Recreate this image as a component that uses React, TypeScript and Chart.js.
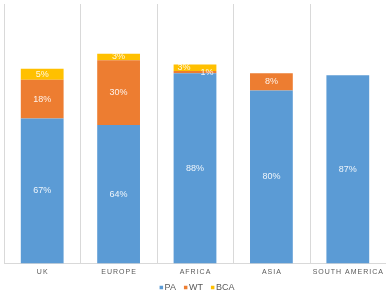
import React, { useEffect, useRef } from "react";
import { Chart, registerables } from "chart.js";

Chart.register(...registerables);

const categories = ["UK", "EUROPE", "AFRICA", "ASIA", "SOUTH AMERICA"];
const paValues = [67, 64, 88, 80, 87];
const wtValues = [18, 30, 1, 8, 0];
const bcaValues = [5, 3, 3, 0, 0];
const seriesNames = ["PA", "WT", "BCA"];
const seriesColors = ["#5b9bd5", "#ed7d31", "#ffc000"];

const FONT = "'Liberation Sans', Arial, sans-serif";
const GRID = "#d9d9d9";

const gridPlugin = {
  id: "categoryDividers",
  beforeDatasetsDraw(chart: any) {
    const ctx = chart.ctx;
    const xs = chart.scales.x;
    const area = chart.chartArea;
    const step = categories.length > 1 ? xs.getPixelForValue(1) - xs.getPixelForValue(0) : xs.width;
    ctx.save();
    ctx.strokeStyle = GRID;
    ctx.lineWidth = 1;
    categories.forEach((_, i) => {
      const x = Math.round(xs.getPixelForValue(i) - step / 2) + 0.5;
      ctx.beginPath();
      ctx.moveTo(x, area.top);
      ctx.lineTo(x, area.bottom);
      ctx.stroke();
    });
    ctx.restore();
  },
};

const valueLabelPlugin = {
  id: "valueLabels",
  afterDatasetsDraw(chart: any) {
    const ctx = chart.ctx;
    ctx.save();
    ctx.font = `9px ${FONT}`;
    ctx.fillStyle = "rgba(255,255,255,0.9)";
    ctx.textAlign = "center";
    ctx.textBaseline = "middle";
    chart.data.datasets.forEach((ds: any, di: number) => {
      const meta = chart.getDatasetMeta(di);
      meta.data.forEach((bar: any, i: number) => {
        const v = ds.data[i];
        if (!v) return;
        let x = bar.x;
        let y = (bar.y + bar.base) / 2;
        // a very thin WT segment under a thin BCA segment: push the two labels apart
        const thinWT = di > 0 && chart.data.datasets[1].data[i] > 0 && chart.data.datasets[1].data[i] < 3;
        if (thinWT) {
          if (di === 1) {
            x += 12;
            y = bar.base - 0.5;
          } else {
            x -= 11;
            y -= 0.5;
          }
        }
        ctx.fillText(`${v}%`, x, y);
      });
    });
    ctx.restore();
  },
};

const xLabelPlugin = {
  id: "spacedXLabels",
  afterDraw(chart: any) {
    const ctx = chart.ctx;
    const xs = chart.scales.x;
    ctx.save();
    ctx.font = `7px ${FONT}`;
    (ctx as any).letterSpacing = "1px";
    ctx.fillStyle = "#595959";
    ctx.textAlign = "center";
    ctx.textBaseline = "middle";
    categories.forEach((c, i) => {
      const x = xs.getPixelForValue(i);
      ctx.fillText(c, x + 0.5, xs.top + 9);
    });
    (ctx as any).letterSpacing = "0px";
    ctx.restore();
  },
};

const legendPlugin = {
  id: "compactLegend",
  afterDraw(chart: any) {
    const ctx = chart.ctx;
    ctx.save();
    ctx.font = `9px ${FONT}`;
    ctx.textBaseline = "middle";
    ctx.textAlign = "left";
    const box = 3.5;
    const gap = 1.5;
    const itemGap = 8;
    const widths = seriesNames.map((n) => box + gap + ctx.measureText(n).width);
    const total = widths.reduce((a, b) => a + b, 0) + itemGap * (widths.length - 1);
    let x = chart.width / 2 + 4 - total / 2;
    const y = chart.height - 4.5;
    seriesNames.forEach((n, k) => {
      ctx.fillStyle = seriesColors[k];
      ctx.fillRect(x, y - box / 2, box, box);
      ctx.fillStyle = "#595959";
      ctx.fillText(n, x + box + gap, y + 0.5);
      x += widths[k] + itemGap;
    });
    ctx.restore();
  },
};

export default function App() {
  const ref = useRef<HTMLCanvasElement>(null);
  useEffect(() => {
    if (!ref.current) return;
    const values = [paValues, wtValues, bcaValues];
    const chart = new Chart(ref.current, {
      type: "bar",
      data: {
        labels: categories,
        datasets: seriesNames.map((n, k) => ({
          label: n,
          data: values[k],
          backgroundColor: seriesColors[k],
          borderWidth: 0,
          categoryPercentage: 1,
          barPercentage: 0.56,
        })),
      },
      options: {
        animation: false,
        responsive: true,
        maintainAspectRatio: false,
        layout: { padding: { top: 4, left: 4, right: 0, bottom: 19 } },
        plugins: {
          legend: { display: false },
          tooltip: { enabled: false },
        },
        scales: {
          x: {
            stacked: true,
            grid: { display: false, drawTicks: false },
            border: { color: GRID },
            ticks: {
              color: "rgba(0,0,0,0)",
              padding: 0,
              font: { size: 8, family: FONT },
            },
          },
          y: {
            stacked: true,
            display: false,
            min: 0,
            max: 120,
          },
        },
      },
      plugins: [gridPlugin, valueLabelPlugin, xLabelPlugin, legendPlugin],
    });
    return () => chart.destroy();
  }, []);
  return (
    <div style={{ position: "absolute", left: 0, top: 0, width: 386, height: 292, background: "#fff", overflow: "hidden" }}>
      <canvas ref={ref} />
    </div>
  );
}
